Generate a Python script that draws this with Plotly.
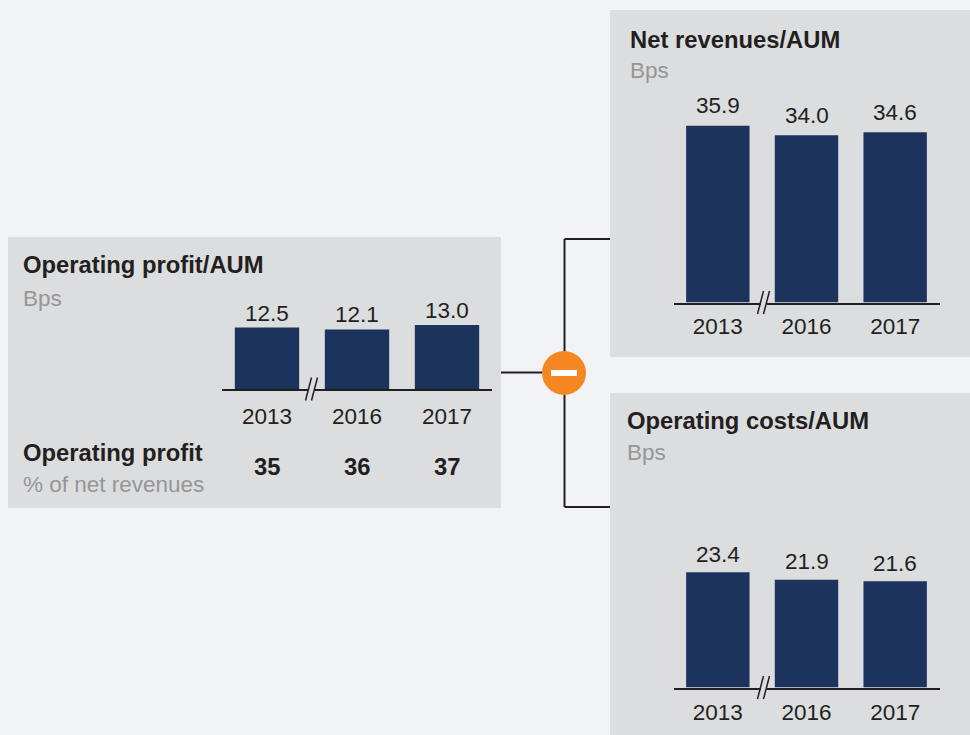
import plotly.graph_objects as go

W, H = 970, 735
years = ["2013", "2016", "2017"]
profit = [12.5, 12.1, 13.0]
revenues = [35.9, 34.0, 34.6]
costs = [23.4, 21.9, 21.6]
margin_pct = ["35", "36", "37"]

BG, PANEL, BAR, INK, GREY, ORANGE = "#f2f3f5", "#dcdddf", "#1b335d", "#231f20", "#969696", "#f58723"
FONT = "Liberation Sans, Arial, sans-serif"
SCALE = 4.92  # pixels per bp
REG = 22.5
BOLD = 23.8

def px(x): return x / W
def py(y): return 1 - y / H

fig = go.Figure()
shapes, annots = [], []

def rect(x0, y0, x1, y1, color, layer="below"):
    shapes.append(dict(type="rect", xref="paper", yref="paper", x0=px(x0), x1=px(x1), y0=py(y1), y1=py(y0),
                       fillcolor=color, line_width=0, layer=layer))

def line(x0, y0, x1, y1, color=INK, width=2):
    shapes.append(dict(type="line", xref="paper", yref="paper", x0=px(x0), x1=px(x1), y0=py(y0), y1=py(y1),
                       line=dict(color=color, width=width), layer="above"))

def text(x, y, s, size=REG, color=INK, bold=False):
    annots.append(dict(xref="paper", yref="paper", x=px(x - 2), y=py(y), text=f"<b>{s}</b>" if bold else s,
                       showarrow=False, xanchor="left", yanchor="middle",
                       font=dict(family=FONT, size=size, color=color)))

rect(8, 237, 501, 508, PANEL)
rect(610, 10, 970, 357, PANEL)
rect(610, 393, 970, 735, PANEL)

def chart(idx, values, x0, x1, base, brk_x, ticklen, label_offset):
    name = "" if idx == 1 else str(idx)
    rng = max(values) + 12
    top = base - rng * SCALE
    fig.add_trace(go.Bar(x=years, y=values, xaxis=f"x{name}", yaxis=f"y{name}", marker_color=BAR,
                         marker_line_width=0, showlegend=False, hoverinfo="skip"))
    fig.update_layout({
        f"xaxis{name}": dict(domain=[px(x0), px(x1)], anchor=f"y{name}", type="category", range=[-0.5, 2.5],
                             showline=True, automargin=False,
                             linecolor=INK, linewidth=2, ticks="outside", ticklen=ticklen,
                             tickcolor="rgba(0,0,0,0)", showgrid=False, zeroline=False,
                             tickfont=dict(family=FONT, size=REG, color=INK)),
        f"yaxis{name}": dict(domain=[py(base), py(top)], anchor=f"x{name}", range=[0, rng], visible=False,
                             showgrid=False, zeroline=False, automargin=False),
    })
    for i, v in enumerate(values):
        annots.append(dict(xref=f"x{name}", yref=f"y{name}", x=i, y=v, text=f"{v:.1f}", showarrow=False,
                           yanchor="middle", yshift=label_offset, font=dict(family=FONT, size=REG, color=INK)))
    # axis break
    line(brk_x - 2, base + 1, brk_x + 4, base + 1, PANEL, 4)
    line(brk_x - 5.5, base + 11.5, brk_x + 0.5, base - 11.5, INK, 1.5)
    line(brk_x + 0.5, base + 11.5, brk_x + 6.5, base - 11.5, INK, 1.5)

chart(1, profit, 222, 492, 389, 311, 6, 14.5)
chart(2, revenues, 673.5, 939.5, 302.5, 763, 2.5, 20)
chart(3, costs, 673.5, 939.5, 687.5, 763, 3, 18)
fig.update_layout(bargap=0.285)

text(23, 265, "Operating profit/AUM", BOLD, INK, True)
text(23, 298, "Bps", REG, GREY)
text(23, 452.5, "Operating profit", BOLD, INK, True)
text(23, 484, "% of net revenues", REG, GREY)
text(630, 40, "Net revenues/AUM", BOLD, INK, True)
text(630, 71, "Bps", REG, GREY)
text(627, 421, "Operating costs/AUM", BOLD, INK, True)
text(627, 453, "Bps", REG, GREY)

for i, v in enumerate(margin_pct):
    annots.append(dict(xref="x", yref="paper", x=i, y=py(466.5), text=f"<b>{v}</b>", showarrow=False,
                       yanchor="middle", font=dict(family=FONT, size=BOLD, color=INK)))

# connector
line(501, 372.5, 545, 372.5)
line(564.5, 239, 564.5, 507)
line(564.5, 239, 610, 239)
line(564.5, 507, 610, 507)
shapes.append(dict(type="circle", xref="paper", yref="paper", x0=px(542), x1=px(586), y0=py(395), y1=py(351),
                   fillcolor=ORANGE, line_width=0, layer="above"))
rect(551, 370, 577, 376, "#ffffff", "above")

fig.update_layout(width=W, height=H, margin=dict(l=0, r=0, t=0, b=0, autoexpand=False), paper_bgcolor=BG,
                  plot_bgcolor="rgba(0,0,0,0)", shapes=shapes, annotations=annots, showlegend=False)
fig.write_html("out.html", config=dict(displayModeBar=False),
               post_script="document.body.style.margin='0';document.documentElement.style.overflow='hidden';")
